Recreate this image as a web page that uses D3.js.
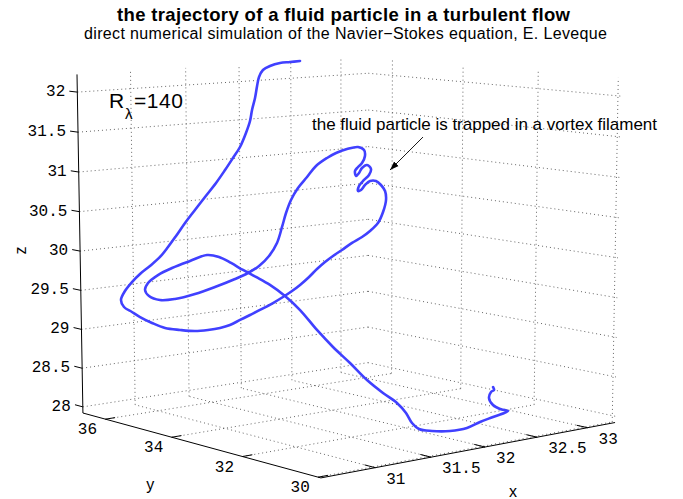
<!DOCTYPE html>
<html><head><meta charset="utf-8">
<script src="https://cdn.jsdelivr.net/npm/d3@7"></script>
<style>body{margin:0;background:#fff}svg{display:block}</style>
</head><body>
<svg id="chart" width="683" height="499"></svg>
<script>
// ---- data (trajectory of a fluid particle) ----
const xData = [31.798,31.742,31.686,31.628,31.586,31.559,31.541,31.520,31.494,31.474,31.442,31.398,31.350,31.297,31.237,31.165,31.099,31.034,30.974,30.921,30.869,30.806,30.745,30.694,30.648,30.619,30.630,30.670,30.711,30.772,30.840,30.921,31.003,31.075,31.143,31.200,31.260,31.319,31.390,31.455,31.515,31.570,31.619,31.675,31.725,31.775,31.824,31.878,31.939,31.999,32.048,32.098,32.135,32.161,32.163,32.145,32.121,32.088,32.057,32.031,32.014,32.023,32.056,32.087,32.103,32.084,32.054,32.034,32.015,32.013,32.033,32.058,32.080,32.080,32.049,31.987,31.923,31.869,31.802,31.744,31.685,31.637,31.599,31.566,31.525,31.471,31.408,31.341,31.265,31.148,31.032,30.918,30.834,30.777,30.760,30.782,30.843,30.926,31.031,31.130,31.194,31.256,31.316,31.382,31.453,31.527,31.599,31.676,31.751,31.832,31.912,31.990,32.059,32.101,32.126,32.160,32.230,32.329,32.425,32.502,32.578,32.665,32.622,32.587,32.571,32.587,32.605,32.602];
const yData = [34.295,34.406,34.518,34.625,34.696,34.725,34.726,34.721,34.727,34.724,34.742,34.777,34.831,34.894,34.966,35.059,35.143,35.226,35.298,35.364,35.432,35.525,35.620,35.692,35.751,35.776,35.725,35.622,35.519,35.368,35.208,35.032,34.858,34.712,34.580,34.473,34.371,34.268,34.145,34.034,33.934,33.845,33.768,33.684,33.612,33.537,33.460,33.371,33.273,33.173,33.096,33.024,32.992,32.986,33.019,33.079,33.145,33.214,33.261,33.295,33.327,33.327,33.285,33.239,33.231,33.286,33.336,33.358,33.385,33.408,33.384,33.347,33.330,33.355,33.431,33.551,33.667,33.758,33.865,33.942,34.019,34.071,34.097,34.110,34.129,34.190,34.281,34.390,34.524,34.734,34.945,35.162,35.331,35.466,35.525,35.507,35.412,35.269,35.080,34.900,34.758,34.607,34.454,34.289,34.111,33.914,33.709,33.468,33.246,33.014,32.780,32.567,32.384,32.258,32.166,32.072,31.919,31.713,31.526,31.392,31.255,31.098,31.194,31.283,31.346,31.337,31.307,31.326];
const zData = [32.379,32.366,32.354,32.317,32.268,32.182,32.071,31.924,31.777,31.641,31.494,31.322,31.187,31.039,30.880,30.708,30.548,30.388,30.229,30.093,29.971,29.860,29.762,29.663,29.553,29.442,29.356,29.295,29.233,29.160,29.098,29.074,29.061,29.074,29.098,29.135,29.197,29.258,29.332,29.405,29.479,29.553,29.627,29.725,29.823,29.909,29.983,30.057,30.143,30.216,30.290,30.388,30.523,30.671,30.781,30.855,30.904,30.904,30.855,30.794,30.781,30.843,30.917,30.978,31.052,31.101,31.064,31.003,30.966,31.027,31.076,31.125,31.211,31.285,31.322,31.297,31.248,31.187,31.089,30.953,30.818,30.671,30.511,30.339,30.143,29.983,29.860,29.774,29.700,29.602,29.516,29.455,29.442,29.491,29.565,29.651,29.749,29.835,29.921,29.995,29.971,29.897,29.811,29.725,29.627,29.491,29.319,29.074,28.865,28.668,28.459,28.300,28.177,28.054,27.931,27.857,27.833,27.833,27.870,27.943,28.005,28.078,28.103,28.152,28.238,28.312,28.337,28.373];

const xDomain = [30.53, 33.28];
const yDomain = [29.93, 36.71];
const zDomain = [27.92, 32.22];
const xTicks = [31, 31.5, 32, 32.5, 33];
const yTicks = [30, 32, 34, 36];
const zTicks = [28, 28.5, 29, 29.5, 30, 30.5, 31, 31.5, 32];
const xTickLabels = ["31", "31.5", "32", "32.5", "33"];
const yTickLabels = ["30", "32", "34", "36"];
const zTickLabels = ["28", "28.5", "29", "29.5", "30", "30.5", "31", "31.5", "32"];
const annotationPoint = [32.207, 33.011, 31.039];

const titleText = "the trajectory of a fluid particle in a turbulent flow";
const subtitleText = "direct numerical simulation of the Navier\u2212Stokes equation, E. Leveque";
const annotationText = "the fluid particle is trapped in a vortex filament";

// ---- camera (perspective view) ----
const cam = {az: 40, el: 9, dist: 7, fx: 381.9, fy: 345.7, cx: 346.7, cy: 248.9};
const sx = d3.scaleLinear().domain(xDomain).range([-0.5, 0.5]);
const sy = d3.scaleLinear().domain(yDomain).range([-0.5, 0.5]);
const sz = d3.scaleLinear().domain(zDomain).range([-0.5, 0.5]);
const A = cam.az * Math.PI / 180, E = cam.el * Math.PI / 180;
function project(p) {
  const s = sx(p[0]), t = sy(p[1]), q = sz(p[2]);
  const h = s * Math.sin(A) + t * Math.cos(A);
  const pr = s * Math.cos(A) - t * Math.sin(A);
  const pu = h * Math.sin(E) + q * Math.cos(E);
  const pc = -h * Math.cos(E) + q * Math.sin(E);
  const k = cam.dist / (cam.dist - pc);
  return [cam.cx + cam.fx * pr * k, cam.cy - cam.fy * pu * k];
}

const svg = d3.select("#chart");
const [x0, x1] = xDomain, [y0, y1] = yDomain, [z0, z1] = zDomain;
const xr = x1 - x0, yr = y1 - y0;

// ---- grid ----
const gridSegs = [];
xTicks.forEach(v => {
  gridSegs.push([[v, y1, z0], [v, y1, z1]]);
  gridSegs.push([[v, y0, z0], [v, y1, z0]]);
});
yTicks.forEach(v => {
  gridSegs.push([[x1, v, z0], [x1, v, z1]]);
  gridSegs.push([[x0, v, z0], [x1, v, z0]]);
});
zTicks.forEach(v => {
  gridSegs.push([[x0, y1, v], [x1, y1, v]]);
  gridSegs.push([[x1, y1, v], [x1, y0, v]]);
});
const gGrid = svg.append("g");
gridSegs.forEach(seg => {
  const a = project(seg[0]), b = project(seg[1]);
  gGrid.append("line").attr("x1", a[0]).attr("y1", a[1]).attr("x2", b[0]).attr("y2", b[1])
    .attr("stroke", "#555").attr("stroke-width", 0.9).attr("stroke-dasharray", "1 3");
});

// ---- axes ----
const gAx = svg.append("g").attr("stroke", "#000").attr("stroke-width", 1);
const axSegs = [
  [[x0, y1, z0], [x0, y1, z1]],
  [[x0, y1, z0], [x0, y0, z0]],
  [[x0, y0, z0], [x1, y0, z0]]
];
axSegs.forEach(seg => {
  const a = project(seg[0]), b = project(seg[1]);
  gAx.append("line").attr("x1", a[0]).attr("y1", a[1]).attr("x2", b[0]).attr("y2", b[1]);
});
const monoFont = "'Liberation Mono', 'Courier New', monospace";
const sansFont = "'Liberation Sans', Arial, Helvetica, sans-serif";
const gLab = svg.append("g").attr("font-family", monoFont).attr("font-size", 16).attr("fill", "#000");

zTicks.forEach((v, i) => {
  const a = project([x0, y1, v]), b = project([x0, y1 + 0.037 * yr, v]);
  gAx.append("line").attr("x1", a[0]).attr("y1", a[1]).attr("x2", b[0]).attr("y2", b[1]);
  gLab.append("text").attr("x", a[0] - 12).attr("y", a[1]).attr("text-anchor", "end")
    .attr("dominant-baseline", "central").text(zTickLabels[i]);
});
yTicks.forEach((v, i) => {
  const a = project([x0, v, z0]), b = project([x0 + 0.031 * xr, v, z0]);
  gAx.append("line").attr("x1", a[0]).attr("y1", a[1]).attr("x2", b[0]).attr("y2", b[1]);
  gLab.append("text").attr("x", a[0] - 18).attr("y", a[1] + 11).attr("text-anchor", "middle")
    .attr("dominant-baseline", "central").text(yTickLabels[i]);
});
xTicks.forEach((v, i) => {
  const a = project([v, y0, z0]), b = project([v, y0 + 0.04 * yr, z0]);
  gAx.append("line").attr("x1", a[0]).attr("y1", a[1]).attr("x2", b[0]).attr("y2", b[1]);
  gLab.append("text").attr("x", a[0] + 11).attr("y", a[1] + 12).attr("text-anchor", "start")
    .attr("dominant-baseline", "central").text(xTickLabels[i]);
});

// axis titles
const zMid = project([x0, y1, (z0 + z1) / 2]);
const yMid = project([x0, (y0 + y1) / 2, z0]);
const xMid = project([(x0 + x1) / 2, y0, z0]);
const gT = svg.append("g").attr("font-family", sansFont).attr("font-size", 16).attr("fill", "#000");
gT.append("text").attr("transform", `translate(${zMid[0] - 60},${zMid[1] + 5}) rotate(-90)`)
  .attr("text-anchor", "middle").attr("dominant-baseline", "central").text("z");
gT.append("text").attr("x", yMid[0] - 45).attr("y", yMid[1] + 41).attr("text-anchor", "middle")
  .attr("dominant-baseline", "central").text("y");
gT.append("text").attr("x", xMid[0] + 38).attr("y", xMid[1] + 43).attr("text-anchor", "middle")
  .attr("dominant-baseline", "central").text("x");

// ---- trajectory ----
const pts = xData.map((x, i) => project([x, yData[i], zData[i]]));
svg.append("path").attr("d", d3.line().curve(d3.curveCatmullRom.alpha(0.5))(pts))
  .attr("fill", "none").attr("stroke", "#4040ff").attr("stroke-width", 2.6)
  .attr("stroke-linejoin", "round").attr("stroke-linecap", "round");

// ---- annotation ----
const defs = svg.append("defs");
defs.append("marker").attr("id", "ah").attr("viewBox", "0 0 10 10").attr("refX", 10).attr("refY", 5)
  .attr("markerWidth", 9).attr("markerHeight", 9).attr("markerUnits", "userSpaceOnUse").attr("orient", "auto")
  .append("path").attr("d", "M0,1.5 L10,5 L0,8.5 Z").attr("fill", "#000");
const ap = project(annotationPoint);
svg.append("line").attr("x1", ap[0] + 33).attr("y1", ap[1] - 33).attr("x2", ap[0]).attr("y2", ap[1])
  .attr("stroke", "#000").attr("stroke-width", 0.9).attr("marker-end", "url(#ah)");
svg.append("text").attr("x", ap[0] - 78).attr("y", ap[1] - 40).attr("font-family", sansFont)
  .attr("font-size", 17).attr("textLength", 345).attr("lengthAdjust", "spacing").text(annotationText);

// R_lambda label
const rl = svg.append("g").attr("font-family", sansFont).attr("fill", "#000");
rl.append("text").attr("x", 109).attr("y", 108).attr("font-size", 21).text("R");
rl.append("text").attr("x", 125).attr("y", 119).attr("font-size", 15).text("\u03bb");
rl.append("text").attr("x", 134).attr("y", 108).attr("font-size", 21).attr("textLength", 49)
  .attr("lengthAdjust", "spacing").text("=140");

// ---- titles ----
svg.append("text").attr("x", 343.5).attr("y", 21).attr("text-anchor", "middle")
  .attr("font-family", sansFont).attr("font-weight", "bold").attr("font-size", 18.5)
  .attr("textLength", 453).attr("lengthAdjust", "spacing").text(titleText);
svg.append("text").attr("x", 345.5).attr("y", 39).attr("text-anchor", "middle")
  .attr("font-family", sansFont).attr("font-size", 16)
  .attr("textLength", 523).attr("lengthAdjust", "spacing").text(subtitleText);
</script>
</body></html>
